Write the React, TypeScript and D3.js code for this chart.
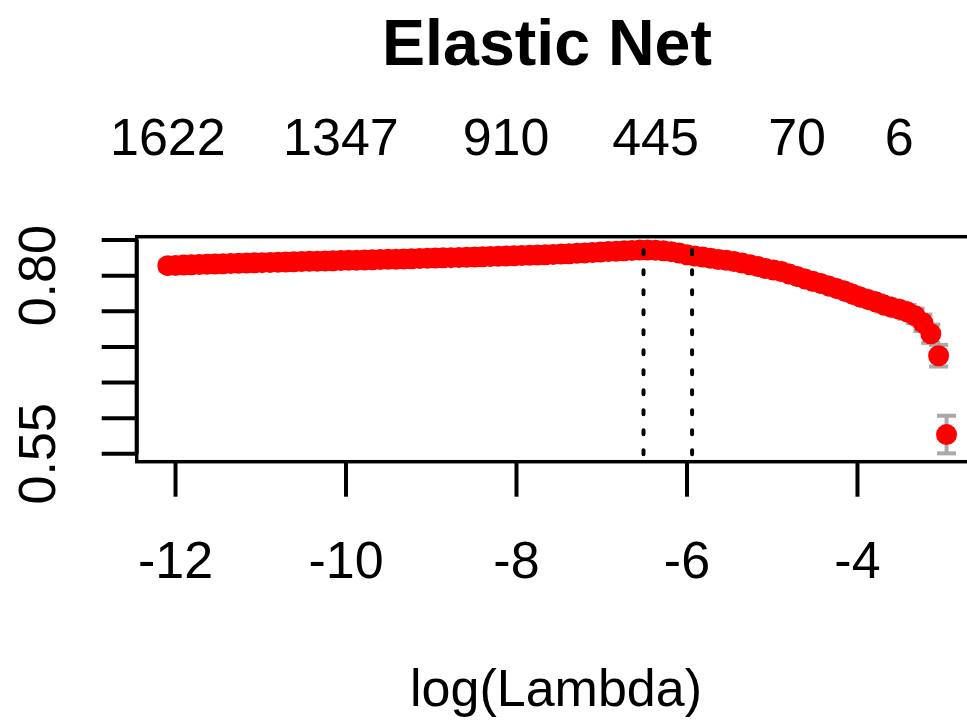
import React from 'react';
import * as d3 from 'd3';

// log(lambda) path of the cv fit
const logLambda = [
  -12.090, -11.998, -11.905, -11.813, -11.721, -11.629, -11.536, -11.444, -11.352, -11.260,
  -11.167, -11.075, -10.983, -10.890, -10.798, -10.706, -10.614, -10.521, -10.429, -10.337,
  -10.245, -10.152, -10.060, -9.968, -9.876, -9.783, -9.691, -9.599, -9.506, -9.414,
  -9.322, -9.230, -9.137, -9.045, -8.953, -8.861, -8.768, -8.676, -8.584, -8.491,
  -8.399, -8.307, -8.215, -8.122, -8.030, -7.938, -7.846, -7.753, -7.661, -7.569,
  -7.477, -7.384, -7.292, -7.200, -7.107, -7.015, -6.923, -6.831, -6.738, -6.646,
  -6.554, -6.462, -6.369, -6.277, -6.185, -6.092, -6.000, -5.908, -5.816, -5.723,
  -5.631, -5.539, -5.447, -5.354, -5.262, -5.170, -5.078, -4.985, -4.893, -4.801,
  -4.708, -4.616, -4.524, -4.432, -4.339, -4.247, -4.155, -4.063, -3.970, -3.878,
  -3.786, -3.693, -3.601, -3.509, -3.417, -3.324, -3.232, -3.140, -3.048, -2.955,
];

// mean cv measure
const cvm = [
  0.8141, 0.8145, 0.8149, 0.8153, 0.8157, 0.8160, 0.8164, 0.8167, 0.8171, 0.8174,
  0.8177, 0.8181, 0.8184, 0.8187, 0.8190, 0.8193, 0.8196, 0.8199, 0.8202, 0.8205,
  0.8208, 0.8211, 0.8213, 0.8216, 0.8219, 0.8222, 0.8224, 0.8227, 0.8230, 0.8233,
  0.8236, 0.8239, 0.8242, 0.8245, 0.8248, 0.8251, 0.8254, 0.8257, 0.8260, 0.8263,
  0.8266, 0.8270, 0.8273, 0.8276, 0.8280, 0.8283, 0.8287, 0.8291, 0.8295, 0.8299,
  0.8304, 0.8309, 0.8314, 0.8320, 0.8326, 0.8332, 0.8339, 0.8345, 0.8351, 0.8356,
  0.8360, 0.8361, 0.8359, 0.8350, 0.8338, 0.8319, 0.8294, 0.8277, 0.8263, 0.8246,
  0.8228, 0.8217, 0.8200, 0.8179, 0.8154, 0.8130, 0.8102, 0.8081, 0.8060, 0.8025,
  0.7990, 0.7955, 0.7923, 0.7892, 0.7857, 0.7822, 0.7787, 0.7745, 0.7703, 0.7668,
  0.7633, 0.7591, 0.7556, 0.7528, 0.7493, 0.7437, 0.7339, 0.7185, 0.6877, 0.5770,
];

// standard error (mostly hidden under the points)
const cvsd = [
  0.0070, 0.0070, 0.0070, 0.0070, 0.0070, 0.0070, 0.0070, 0.0070, 0.0070, 0.0070,
  0.0070, 0.0070, 0.0070, 0.0070, 0.0070, 0.0070, 0.0070, 0.0070, 0.0070, 0.0070,
  0.0070, 0.0070, 0.0070, 0.0070, 0.0070, 0.0070, 0.0070, 0.0070, 0.0070, 0.0070,
  0.0070, 0.0070, 0.0070, 0.0070, 0.0070, 0.0070, 0.0070, 0.0070, 0.0070, 0.0070,
  0.0070, 0.0070, 0.0070, 0.0070, 0.0070, 0.0070, 0.0070, 0.0070, 0.0070, 0.0070,
  0.0070, 0.0070, 0.0070, 0.0070, 0.0070, 0.0070, 0.0070, 0.0070, 0.0070, 0.0070,
  0.0070, 0.0070, 0.0070, 0.0070, 0.0070, 0.0070, 0.0070, 0.0070, 0.0070, 0.0070,
  0.0072, 0.0073, 0.0074, 0.0075, 0.0076, 0.0077, 0.0078, 0.0079, 0.0080, 0.0081,
  0.0082, 0.0083, 0.0084, 0.0085, 0.0086, 0.0087, 0.0088, 0.0089, 0.0090, 0.0091,
  0.0092, 0.0093, 0.0094, 0.0095, 0.0097, 0.0100, 0.0115, 0.0128, 0.0152, 0.0264,
];

// number of nonzero coefs shown on top axis (index into the path)
const nzIndex = [0, 22, 43, 62, 80, 93];
const nzLabels = ['1622', '1347', '910', '445', '70', '6'];

const lambdaMin = -6.51;
const lambda1se = -5.94;

const xTicks = [-12, -10, -8, -6, -4];
const yTicks = [0.55, 0.6, 0.65, 0.7, 0.75, 0.8, 0.85];
const yTickLabels = ['0.55', '', '', '', '', '0.80', ''];

const title = 'Elastic Net';
const xLabel = 'log(Lambda)';

const W = 967;
const H = 720;
const plot = { left: 136.7, right: 977.7, top: 236.7, bottom: 461.7 };
const font = '"Liberation Sans", Arial, Helvetica, sans-serif';

// R style 4% padding of the data range
const pad = (lo: number, hi: number): [number, number] => {
  const d = (hi - lo) * 0.04;
  return [lo - d, hi + d];
};

const App: React.FC = () => {
  const upper = cvm.map((v, i) => v + cvsd[i]);
  const lower = cvm.map((v, i) => v - cvsd[i]);

  const x = d3.scaleLinear()
    .domain(pad(d3.min(logLambda)!, d3.max(logLambda)!))
    .range([plot.left, plot.right]);
  const y = d3.scaleLinear()
    .domain(pad(d3.min(lower)!, d3.max(upper)!))
    .range([plot.bottom, plot.top]);

  const barW = 9.5;
  const tickLen = 35;

  return (
    <svg width={W} height={H} style={{ position: 'absolute', left: 0, top: 0, background: '#fff' }}
      fontFamily={font}>
      <text x={547} y={65} fontSize={64.5} fontWeight="bold" textAnchor="middle">{title}</text>

      {/* top axis: nonzero counts */}
      {nzIndex.map((idx, i) => (
        <text key={i} x={x(logLambda[idx])} y={155} fontSize={52} textAnchor="middle">{nzLabels[i]}</text>
      ))}

      {/* error bars */}
      <g stroke="#a9a9a9" strokeWidth={4}>
        {logLambda.map((l, i) => (
          <g key={i}>
            <line x1={x(l)} x2={x(l)} y1={y(upper[i])} y2={y(lower[i])} />
            <line x1={x(l) - barW} x2={x(l) + barW} y1={y(upper[i])} y2={y(upper[i])} />
            <line x1={x(l) - barW} x2={x(l) + barW} y1={y(lower[i])} y2={y(lower[i])} />
          </g>
        ))}
      </g>

      {/* points */}
      <g fill="#ff0000">
        {logLambda.map((l, i) => (
          <circle key={i} cx={x(l)} cy={y(cvm[i])} r={10.5} />
        ))}
      </g>

      {/* lambda.min / lambda.1se */}
      {[lambdaMin, lambda1se].map((v, i) => (
        <line key={i} x1={x(v)} x2={x(v)} y1={plot.top} y2={plot.bottom}
          stroke="#000" strokeWidth={4} strokeDasharray="4,16" strokeDashoffset={6.4}
          strokeLinecap="round" />
      ))}

      {/* box */}
      <rect x={plot.left} y={plot.top} width={plot.right - plot.left} height={plot.bottom - plot.top}
        fill="none" stroke="#000" strokeWidth={3.5} />

      {/* x axis */}
      <g stroke="#000" strokeWidth={4}>
        {xTicks.map(t => (
          <line key={t} x1={x(t)} x2={x(t)} y1={plot.bottom} y2={plot.bottom + tickLen} />
        ))}
      </g>
      {xTicks.map(t => (
        <text key={t} x={x(t)} y={578} fontSize={52} textAnchor="middle">{String(t)}</text>
      ))}

      {/* y axis */}
      <line x1={plot.left} x2={plot.left} y1={y(yTicks[0])} y2={y(yTicks[yTicks.length - 1])}
        stroke="#000" strokeWidth={4} />
      <g stroke="#000" strokeWidth={4}>
        {yTicks.map(t => (
          <line key={t} x1={plot.left - tickLen} x2={plot.left} y1={y(t)} y2={y(t)} />
        ))}
      </g>
      {yTicks.map((t, i) => yTickLabels[i] ? (
        <text key={t} transform={`translate(55,${y(t)}) rotate(-90)`} fontSize={52}
          textAnchor="middle">{yTickLabels[i]}</text>
      ) : null)}

      <text x={556} y={706} fontSize={52} textAnchor="middle">{xLabel}</text>
    </svg>
  );
};

export default App;
